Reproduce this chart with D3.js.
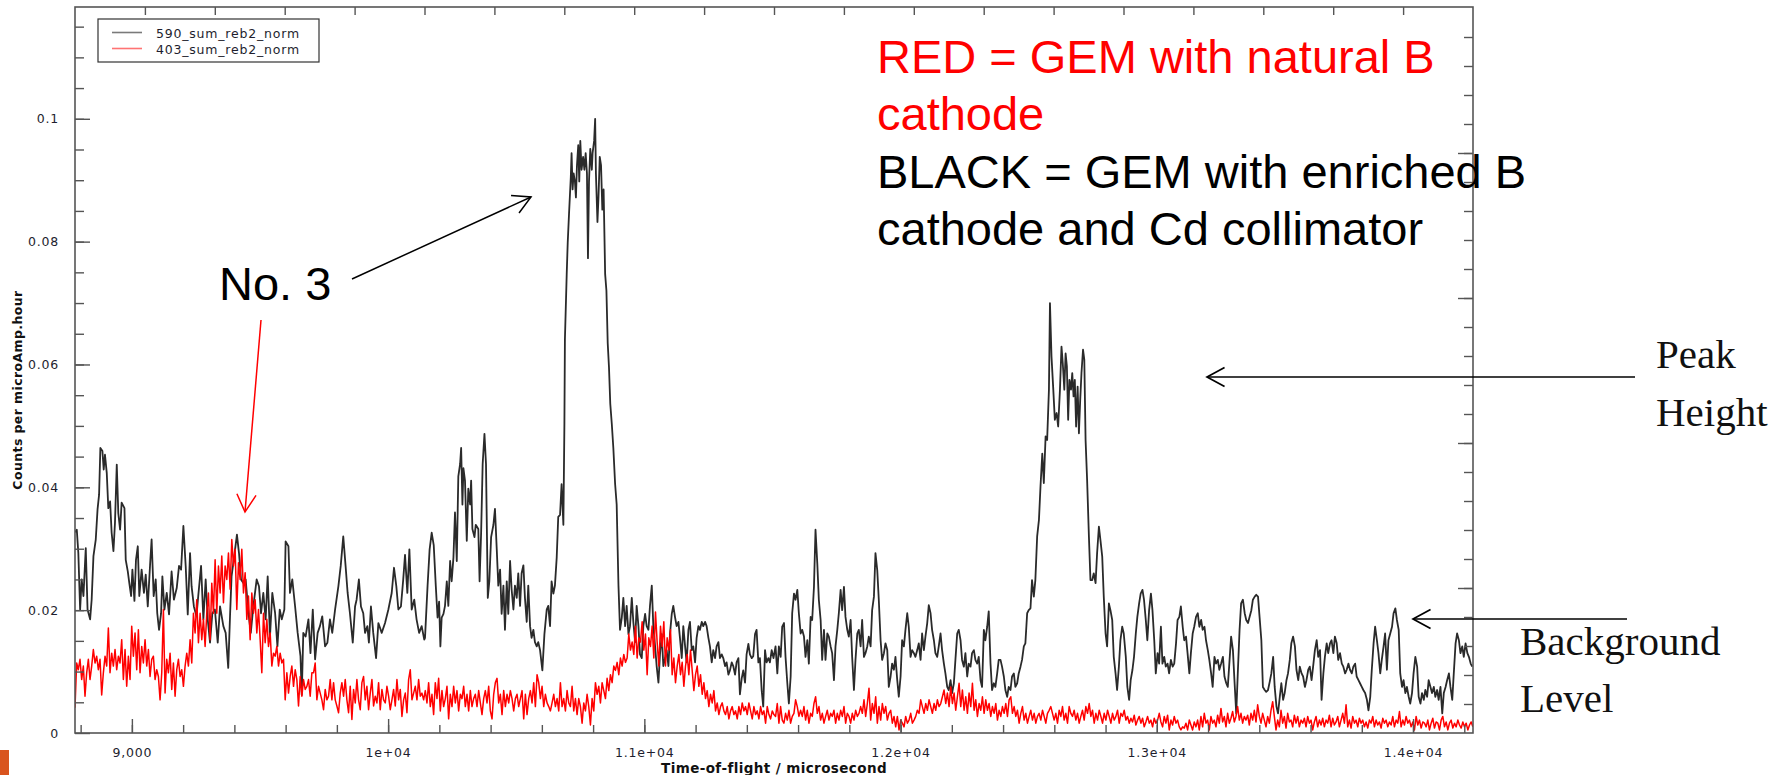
<!DOCTYPE html>
<html>
<head>
<meta charset="utf-8">
<title>GEM time-of-flight spectra</title>
<style>
  body { margin: 0; background: #fff; }
  .tick text, .legend-text { font-family: "DejaVu Sans", sans-serif; font-size: 12.5px; letter-spacing: 0.8px; fill: #1e1e2e; }
  .tick line { stroke: #555; stroke-width: 1.4px; }
  .axis-title { font-family: "DejaVu Sans", sans-serif; font-weight: bold; fill: #111; letter-spacing: 0.4px; }
  .note { font-family: "Liberation Sans", Arial, sans-serif; font-size: 47px; }
  .serif-note { font-family: "Liberation Serif", "Times New Roman", serif; font-size: 41px; fill: #111; }
</style>
</head>
<body>
<script src="https://cdnjs.cloudflare.com/ajax/libs/d3/7.8.5/d3.min.js"></script>
<script>
// black series: [time-of-flight (us), counts per microAmp.hour]
const blackSpectrum = [
[8778,.0327],[8785,.0331],[8791,.0293],[8798,.0201],[8804,.0250],[8811,.0223],[8820,.0301],[8827,.0201],[8837,.0185],[8843,.0217],[8850,.0288],[8859,.0315],[8866,.0364],[8872,.0388],[8877,.0464],[8885,.0459],[8890,.0429],[8895,.0453],[8902,.0423],[8908,.0366],[8915,.0377],[8921,.0326],[8928,.0296],[8934,.0342],[8941,.0437],[8947,.0358],[8954,.0331],[8960,.0375],[8971,.0366],[8976,.0282],[8984,.0263],[8990,.0244],[8997,.0223],[9002,.0266],[9010,.0215],[9016,.0282],[9023,.0304],[9029,.0223],[9038,.0266],[9047,.0228],[9054,.0258],[9062,.0206],[9071,.0274],[9077,.0315],[9085,.0223],[9093,.0250],[9099,.0195],[9106,.0168],[9114,.0195],[9119,.0255],[9127,.0201],[9136,.0228],[9145,.0193],[9155,.0263],[9164,.0217],[9175,.0236],[9184,.0272],[9192,.0266],[9201,.0337],[9210,.0272],[9218,.0193],[9227,.0293],[9233,.0239],[9242,.0206],[9252,.0190],[9259,.0223],[9270,.0272],[9279,.0185],[9288,.0250],[9296,.0185],[9305,.0147],[9314,.0195],[9324,.0201],[9335,.0147],[9344,.0206],[9357,.0174],[9366,.0163],[9376,.0106],[9383,.0190],[9389,.0255],[9400,.0290],[9410,.0323],[9418,.0293],[9426,.0250],[9435,.0244],[9444,.0250],[9455,.0195],[9464,.0163],[9474,.0206],[9487,.0250],[9496,.0239],[9504,.0195],[9513,.0228],[9522,.0185],[9530,.0255],[9539,.0157],[9548,.0228],[9559,.0195],[9568,.0141],[9577,.0201],[9585,.0185],[9595,.0201],[9600,.0312],[9611,.0304],[9617,.0228],[9626,.0250],[9637,.0206],[9647,.0163],[9658,.0125],[9663,.0062],[9669,.0163],[9678,.0157],[9689,.0185],[9697,.0130],[9706,.0201],[9715,.0120],[9725,.0163],[9734,.0174],[9743,.0190],[9754,.0141],[9763,.0147],[9773,.0185],[9782,.0163],[9793,.0201],[9806,.0239],[9815,.0272],[9825,.0320],[9834,.0272],[9842,.0228],[9851,.0195],[9862,.0147],[9871,.0206],[9877,.0217],[9886,.0250],[9894,.0206],[9903,.0195],[9910,.0163],[9919,.0174],[9925,.0147],[9933,.0206],[9942,.0163],[9953,.0122],[9962,.0179],[9975,.0163],[9988,.0179],[10001,.0201],[10014,.0228],[10023,.0269],[10032,.0239],[10040,.0201],[10050,.0206],[10059,.0250],[10066,.0290],[10075,.0228],[10083,.0299],[10092,.0201],[10102,.0217],[10111,.0185],[10121,.0163],[10131,.0174],[10141,.0152],
[10144,.0155],[10154,.0240],[10162,.0299],[10170,.0326],[10178,.0306],[10186,.0240],[10193,.0188],[10199,.0214],[10204,.0141],[10209,.0188],[10216,.0194],[10222,.0207],[10229,.0247],[10235,.0207],[10242,.0280],[10248,.0247],[10255,.0286],[10261,.0359],[10268,.0280],[10274,.0418],[10281,.0438],[10285,.0464],[10290,.0372],[10294,.0431],[10300,.0411],[10307,.0313],[10313,.0398],[10320,.0372],[10324,.0411],[10329,.0332],[10337,.0319],[10342,.0339],[10352,.0332],[10357,.0247],[10363,.0326],[10369,.0438],[10376,.0487],[10382,.0438],[10389,.0220],[10395,.0247],[10402,.0319],[10411,.0339],[10417,.0365],[10424,.0299],[10430,.0240],[10437,.0266],[10443,.0194],[10450,.0240],[10456,.0168],[10463,.0247],[10469,.0194],[10476,.0280],[10482,.0234],[10489,.0201],[10495,.0240],[10502,.0220],[10508,.0260],[10515,.0207],[10521,.0260],[10528,.0273],[10534,.0220],[10541,.0181],[10547,.0240],[10554,.0174],[10560,.0155],[10567,.0168],[10573,.0148],[10580,.0141],[10586,.0148],[10593,.0135],[10602,.0102],[10610,.0161],[10619,.0201],[10625,.0207],[10632,.0174],[10638,.0247],[10645,.0227],[10651,.0240],[10658,.0286],[10664,.0352],[10671,.0355],[10677,.0405],[10684,.0339],[10688,.0503],[10690,.0641],[10697,.0747],[10701,.0799],[10706,.0845],[10713,.0905],[10716,.0944],[10720,.0885],[10724,.0911],[10729,.0898],[10733,.0872],[10737,.0924],[10742,.0957],[10746,.0898],[10750,.0964],[10755,.0917],[10761,.0938],[10766,.0917],[10771,.0944],[10776,.0911],[10780,.0773],[10784,.0898],[10789,.0951],[10795,.0917],[10798,.0944],[10804,.0964],[10808,.1000],[10811,.0911],[10817,.0832],[10821,.0872],[10826,.0938],[10831,.0924],[10836,.0852],[10841,.0885],[10847,.0747],[10852,.0720],[10857,.0635],[10862,.0595],[10867,.0536],[10873,.0503],[10879,.0464],[10886,.0405],[10892,.0372],[10899,.0240],[10905,.0168],[10912,.0188],[10918,.0220],[10925,.0174],[10931,.0207],[10938,.0161],[10944,.0174],[10951,.0220],[10957,.0181],[10964,.0148],[10970,.0207],[10977,.0174],[10983,.0128],[10990,.0122],[10996,.0174],[11003,.0194],[11009,.0174],[11016,.0168],[11022,.0207],[11029,.0240],[11035,.0174],[11042,.0141],[11048,.0109],[11055,.0082],[11061,.0128],[11068,.0161],[11074,.0109],[11081,.0122],[11087,.0135],[11094,.0109],[11100,.0161],[11107,.0194],[11113,.0207],[11120,.0188],[11126,.0174],[11133,.0181],[11139,.0155],[11146,.0122],[11152,.0174],[11159,.0141],[11165,.0115],[11172,.0168],[11178,.0181],[11185,.0135],[11191,.0141],[11198,.0115],[11204,.0155],[11211,.0174],[11217,.0168],[11224,.0181],[11230,.0174],[11237,.0181],[11243,.0174],[11250,.0155],[11256,.0141],[11263,.0115],[11269,.0135],[11276,.0122],[11282,.0141],[11289,.0148],[11295,.0122],[11302,.0128],[11308,.0122],[11315,.0109],[11321,.0115],[11328,.0095],[11334,.0102],[11341,.0115],[11347,.0109],[11354,.0095],[11360,.0115],[11367,.0122],[11373,.0063],[11380,.0089],[11386,.0102],[11393,.0082],[11399,.0128],[11406,.0145],[11412,.0128],[11419,.0122],[11425,.0125],[11432,.0161],[11438,.0168],[11445,.0115],[11451,.0122],[11458,.0069],[11464,.0043],[11471,.0135],[11477,.0115],[11484,.0122],[11490,.0115],[11497,.0135],[11504,.0122],
[11512,.0141],[11519,.0097],[11525,.0141],[11532,.0124],[11538,.0173],[11545,.0179],[11551,.0124],[11558,.0081],[11564,.0048],[11571,.0092],[11577,.0195],[11584,.0227],[11590,.0217],[11597,.0233],[11603,.0195],[11610,.0162],[11616,.0168],[11623,.0157],[11629,.0124],[11636,.0151],[11642,.0113],[11649,.0189],[11655,.0184],[11662,.0238],[11668,.0331],[11675,.0276],[11681,.0217],[11688,.0184],[11694,.0119],[11701,.0168],[11707,.0119],[11714,.0162],[11720,.0157],[11727,.0141],[11733,.0130],[11740,.0086],[11746,.0141],[11753,.0168],[11759,.0195],[11766,.0233],[11772,.0200],[11779,.0238],[11785,.0189],[11792,.0168],[11798,.0157],[11805,.0184],[11811,.0124],[11818,.0070],[11824,.0119],[11831,.0162],[11837,.0168],[11844,.0141],[11850,.0184],[11857,.0124],[11863,.0130],[11870,.0141],[11876,.0157],[11883,.0141],[11889,.0200],[11896,.0222],[11902,.0293],[11909,.0265],[11915,.0217],[11922,.0151],[11928,.0119],[11935,.0130],[11941,.0146],[11948,.0135],[11954,.0075],[11961,.0092],[11967,.0113],[11974,.0103],[11980,.0124],[11987,.0086],[11993,.0059],[12000,.0092],[12006,.0151],[12013,.0141],[12019,.0168],[12026,.0195],[12032,.0173],[12039,.0124],[12045,.0135],[12052,.0130],[12058,.0124],[12065,.0135],[12071,.0146],[12078,.0119],[12084,.0162],[12091,.0135],[12097,.0157],[12104,.0179],[12110,.0208],[12117,.0195],[12123,.0168],[12130,.0151],[12136,.0130],[12143,.0124],[12149,.0141],[12156,.0162],[12162,.0135],[12169,.0113],[12175,.0097],[12182,.0075],[12188,.0070],[12195,.0086],[12201,.0065],[12208,.0081],[12214,.0119],[12221,.0162],[12227,.0168],[12234,.0151],[12240,.0119],[12247,.0108],[12253,.0130],[12260,.0092],[12266,.0113],[12273,.0108],[12279,.0130],[12286,.0135],[12292,.0119],[12299,.0113],[12305,.0124],[12312,.0086],[12318,.0075],[12325,.0168],[12331,.0151],[12338,.0173],[12344,.0198],[12351,.0113],[12357,.0070],[12364,.0081],[12370,.0075],[12377,.0097],[12383,.0119],[12390,.0119],[12396,.0108],[12403,.0092],[12409,.0070],[12416,.0059],[12422,.0075],[12429,.0070],[12435,.0092],[12442,.0097],[12448,.0075],[12455,.0081],[12461,.0097],[12468,.0108],[12474,.0119],[12481,.0141],[12487,.0146],[12494,.0195],[12500,.0200],[12507,.0203],[12513,.0249],[12520,.0222],[12526,.0249],[12533,.0320],[12540,.0347],[12546,.0401],[12553,.0455],[12559,.0407],[12566,.0483],[12572,.0477],[12579,.0559],[12583,.0700],[12589,.0613],[12596,.0559],[12602,.0510],[12609,.0521],[12615,.0499],[12622,.0559],[12628,.0629],[12633,.0602],[12639,.0559],[12644,.0618],[12649,.0597],[12654,.0510],[12659,.0575],[12665,.0559],[12670,.0586],[12675,.0548],[12680,.0575],[12685,.0499],[12691,.0564],[12696,.0488],[12701,.0542],[12706,.0586],[12712,.0624],[12717,.0608],[12722,.0477],[12728,.0412],[12735,.0320],[12741,.0249],[12748,.0249],[12754,.0260],[12761,.0244],[12767,.0293],[12774,.0336],[12780,.0314],[12787,.0287],[12793,.0222],[12800,.0162],[12806,.0141],[12813,.0211],[12819,.0200],[12826,.0184],[12832,.0124],[12839,.0097],[12845,.0070],[12852,.0108],[12858,.0151],[12865,.0173],[12871,.0162],
[12879,.0124],[12885,.0075],[12892,.0054],[12898,.0086],[12905,.0103],[12911,.0124],[12918,.0162],[12924,.0189],[12931,.0211],[12937,.0227],[12944,.0233],[12950,.0217],[12957,.0184],[12963,.0151],[12970,.0200],[12977,.0227],[12983,.0200],[12990,.0151],[12996,.0097],[13003,.0130],[13009,.0113],[13016,.0173],[13022,.0113],[13029,.0124],[13035,.0108],[13042,.0113],[13048,.0097],[13055,.0119],[13062,.0108],[13068,.0113],[13075,.0146],[13081,.0184],[13088,.0189],[13094,.0206],[13101,.0173],[13107,.0151],[13114,.0157],[13120,.0130],[13127,.0097],[13133,.0130],[13140,.0162],[13146,.0173],[13153,.0189],[13160,.0195],[13166,.0173],[13173,.0184],[13179,.0168],[13186,.0173],[13192,.0151],[13199,.0135],[13205,.0119],[13212,.0097],[13218,.0075],[13225,.0124],[13231,.0113],[13238,.0119],[13244,.0103],[13251,.0113],[13258,.0124],[13264,.0092],[13271,.0081],[13277,.0075],[13284,.0119],[13290,.0157],[13297,.0135],[13303,.0086],[13310,.0032],[13316,.0097],[13323,.0168],[13329,.0211],[13336,.0217],[13343,.0195],[13349,.0184],[13356,.0179],[13362,.0189],[13369,.0200],[13375,.0217],[13382,.0222],[13388,.0225],[13395,.0222],[13401,.0189],[13408,.0151],[13414,.0075],[13421,.0070],[13427,.0067],[13434,.0070],[13441,.0084],[13447,.0097],[13454,.0124],[13460,.0075],[13467,.0043],[13473,.0032],[13480,.0059],[13486,.0081],[13493,.0054],[13499,.0065],[13506,.0086],[13512,.0097],[13519,.0119],[13525,.0146],[13532,.0157],[13539,.0141],[13545,.0103],[13552,.0086],[13558,.0108],[13565,.0097],[13571,.0092],[13578,.0075],[13584,.0086],[13591,.0103],[13597,.0108],[13604,.0086],[13610,.0108],[13617,.0135],[13624,.0151],[13630,.0124],[13637,.0135],[13643,.0054],[13650,.0097],[13656,.0124],[13663,.0146],[13669,.0130],[13676,.0146],[13682,.0151],[13689,.0130],[13695,.0157],[13702,.0146],[13708,.0119],[13715,.0130],[13722,.0113],[13728,.0108],[13735,.0097],[13741,.0103],[13748,.0113],[13754,.0103],[13761,.0097],[13767,.0108],[13774,.0113],[13780,.0092],[13787,.0086],[13793,.0081],[13800,.0075],[13806,.0070],[13813,.0065],[13820,.0054],[13826,.0037],[13833,.0059],[13839,.0103],[13846,.0146],[13852,.0173],[13859,.0151],[13865,.0130],[13872,.0097],[13878,.0119],[13885,.0141],[13891,.0162],[13898,.0103],[13904,.0151],[13911,.0162],[13918,.0173],[13924,.0195],[13931,.0203],[13937,.0184],[13944,.0168],[13950,.0097],[13957,.0075],[13963,.0086],[13970,.0065],[13976,.0075],[13983,.0059],[13989,.0048],[13996,.0065],[14002,.0097],[14009,.0124],[14016,.0108],[14022,.0059],[14029,.0048],[14035,.0065],[14042,.0054],[14048,.0070],[14055,.0059],[14061,.0086],[14068,.0075],[14074,.0065],[14081,.0075],[14087,.0059],[14094,.0070],[14100,.0054],[14107,.0075],[14114,.0032],[14120,.0065],[14127,.0075],[14133,.0086],[14140,.0097],[14146,.0075],[14153,.0054],[14159,.0097],[14166,.0146],[14172,.0162],[14179,.0151],[14185,.0130],[14192,.0141],[14198,.0124],[14205,.0146],[14212,.0130],[14218,.0124],[14225,.0113],[14231,.0108]
];

// red series: regular bins starting at redStart, width redStep (us)
const redStart = 8778;
const redStep = 6.51;
const redCounts = [
.0041,.0114,.0103,.0120,.0087,.0109,.0060,.0098,.0120,.0087,.0109,.0136,.0114,.0125,.0103,.0120,.0062,.0098,.0125,.0109,
.0171,.0098,.0130,.0109,.0136,.0103,.0125,.0114,.0152,.0087,.0136,.0076,.0125,.0087,.0174,.0125,.0163,.0103,.0168,.0098,
.0141,.0114,.0152,.0109,.0136,.0092,.0120,.0125,.0087,.0103,.0092,.0054,.0098,.0201,.0065,.0120,.0098,.0130,.0071,.0114,
.0060,.0103,.0120,.0092,.0103,.0076,.0109,.0130,.0109,.0152,.0114,.0195,.0163,.0217,.0147,.0195,.0152,.0185,.0141,.0195,
.0228,.0152,.0244,.0195,.0282,.0195,.0272,.0228,.0288,.0212,.0272,.0250,.0293,.0234,.0315,.0272,.0299,.0201,.0277,.0250,
.0299,.0228,.0261,.0185,.0223,.0152,.0228,.0195,.0217,.0163,.0201,.0152,.0098,.0195,.0147,.0185,.0141,.0163,.0109,.0130,
.0125,.0141,.0109,.0130,.0114,.0120,.0054,.0098,.0065,.0092,.0109,.0076,.0103,.0087,.0044,.0092,.0060,.0087,.0071,.0076,
.0087,.0060,.0098,.0098,.0114,.0054,.0076,.0065,.0054,.0038,.0071,.0054,.0060,.0087,.0054,.0082,.0054,.0044,.0033,.0065,
.0082,.0060,.0087,.0054,.0033,.0076,.0022,.0071,.0049,.0087,.0054,.0038,.0082,.0092,.0054,.0076,.0038,.0065,.0087,.0044,
.0060,.0049,.0082,.0038,.0071,.0054,.0049,.0076,.0060,.0038,.0054,.0071,.0044,.0087,.0054,.0071,.0027,.0054,.0065,.0033,
.0087,.0103,.0054,.0065,.0076,.0054,.0087,.0060,.0065,.0054,
.0069,.0049,.0082,.0043,.0063,.0030,.0082,.0056,.0089,.0036,.0069,.0043,.0056,.0076,.0023,.0063,.0043,.0076,.0049,.0069,
.0036,.0063,.0056,.0076,.0043,.0063,.0036,.0069,.0043,.0056,.0063,.0043,.0069,.0049,.0030,.0056,.0069,.0049,.0076,.0036,
.0023,.0063,.0082,.0089,.0049,.0063,.0030,.0069,.0043,.0063,.0049,.0069,.0056,.0036,.0056,.0063,.0043,.0056,.0069,.0023,
.0063,.0030,.0056,.0069,.0049,.0082,.0043,.0095,.0082,.0056,.0076,.0043,.0063,.0049,.0043,.0036,.0049,.0063,.0043,.0056,
.0036,.0082,.0043,.0056,.0036,.0069,.0049,.0043,.0076,.0036,.0056,.0030,.0056,.0043,.0016,.0049,.0036,.0063,.0043,.0013,
.0056,.0036,.0082,.0063,.0076,.0049,.0082,.0069,.0056,.0089,.0069,.0095,.0082,.0109,.0102,.0115,.0095,.0122,.0109,.0128,
.0115,.0122,.0161,.0135,.0148,.0128,.0174,.0122,.0155,.0148,.0181,.0135,.0161,.0095,.0155,.0141,.0174,.0122,.0197,.0148,
.0109,.0174,.0141,.0181,.0109,.0155,.0135,.0168,.0095,.0122,.0082,.0109,.0128,.0095,.0115,.0076,.0109,.0128,.0095,.0135,
.0102,.0069,.0095,.0109,.0076,.0095,.0063,.0082,.0056,.0069,.0043,.0063,.0049,.0069,.0036,.0049,.0030,.0043,.0049,.0036,
.0030,.0043,.0023,.0036,.0043,.0030,.0036,.0023,.0043,.0030,.0049,.0036,.0043,.0030,.0049,.0036,.0023,.0043,.0030,.0036,
.0023,.0043,.0030,.0036,.0016,.0043,.0030,.0023,.0036,.0030,
.0027,.0048,.0016,.0043,.0021,.0016,.0032,.0021,.0037,.0016,.0027,.0032,.0054,.0043,.0027,.0037,.0027,.0043,.0021,.0037,
.0016,.0032,.0027,.0048,.0059,.0032,.0043,.0021,.0032,.0016,.0027,.0037,.0021,.0032,.0027,.0037,.0016,.0032,.0021,.0037,
.0027,.0043,.0016,.0032,.0027,.0016,.0032,.0021,.0037,.0027,.0032,.0043,.0032,.0054,.0027,.0048,.0073,.0021,.0048,.0032,
.0059,.0016,.0043,.0021,.0048,.0032,.0043,.0021,.0032,.0037,.0016,.0027,.0010,.0027,.0005,.0021,.0016,.0010,.0027,.0016,
.0021,.0032,.0016,.0021,.0027,.0037,.0032,.0054,.0043,.0032,.0048,.0037,.0054,.0043,.0032,.0048,.0037,.0054,.0043,.0048,
.0059,.0070,.0048,.0065,.0043,.0075,.0048,.0065,.0037,.0059,.0081,.0043,.0070,.0037,.0059,.0032,.0065,.0043,.0081,.0037,
.0054,.0027,.0048,.0037,.0059,.0032,.0054,.0037,.0048,.0027,.0043,.0032,.0048,.0021,.0037,.0027,.0043,.0032,.0048,.0027,
.0054,.0059,.0032,.0043,.0027,.0037,.0016,.0032,.0043,.0021,.0032,.0016,.0027,.0037,.0021,.0032,.0016,.0027,.0032,.0021,
.0037,.0027,.0016,.0032,.0037,.0043,.0032,.0021,.0032,.0016,.0037,.0027,.0043,.0021,.0032,.0016,.0043,.0032,.0027,.0037,
.0021,.0032,.0016,.0027,.0037,.0021,.0043,.0032,.0048,.0027,.0037,.0016,.0032,.0021,.0037,.0027,.0016,.0032,.0021,.0037,
.0027,.0016,.0032,.0021,.0027,.0037,.0016,.0032,.0027,.0037,
.0021,.0027,.0016,.0024,.0018,.0029,.0013,.0021,.0027,.0016,.0024,.0010,.0018,.0027,.0016,.0021,.0010,.0024,.0016,.0021,
.0032,.0018,.0010,.0027,.0016,.0029,.0005,.0021,.0013,.0027,.0016,.0021,.0010,.0005,.0010,.0008,.0016,.0005,.0021,.0013,
.0005,.0018,.0010,.0021,.0005,.0027,.0010,.0032,.0016,.0021,.0005,.0027,.0016,.0021,.0010,.0029,.0016,.0040,.0018,.0027,
.0010,.0032,.0016,.0024,.0035,.0018,.0027,.0043,.0021,.0032,.0016,.0027,.0021,.0029,.0013,.0032,.0021,.0037,.0018,.0046,
.0027,.0016,.0032,.0021,.0010,.0027,.0016,.0037,.0051,.0027,.0005,.0021,.0010,.0037,.0016,.0027,.0008,.0032,.0018,.0021,
.0010,.0029,.0016,.0027,.0010,.0021,.0016,.0024,.0010,.0027,.0016,.0021,.0005,.0018,.0027,.0010,.0021,.0013,.0024,.0010,
.0021,.0016,.0029,.0010,.0024,.0013,.0018,.0027,.0010,.0021,.0032,.0016,.0046,.0010,.0021,.0008,.0027,.0016,.0021,.0010,
.0024,.0016,.0021,.0010,.0018,.0008,.0021,.0016,.0027,.0010,.0021,.0013,.0018,.0008,.0024,.0016,.0021,.0010,.0018,.0013,
.0027,.0010,.0021,.0016,.0035,.0010,.0021,.0013,.0027,.0016,.0021,.0010,.0018,.0005,.0027,.0013,.0021,.0008,.0018,.0016,
.0010,.0021,.0005,.0016,.0024,.0008,.0018,.0016,.0005,.0021,.0027,.0010,.0018,.0005,.0016,.0021,.0008,.0016,.0010,.0021,
.0013,.0008,.0018,.0010,.0016,.0005,.0013,.0018,.0010
];

const seriesNames = ["590_sum_reb2_norm", "403_sum_reb2_norm"];
const seriesColors = ["#2a2a2a", "#ff0000"];
const legendColors = ["#7a7a7a", "#ff7373"];
const xTickValues = [9000, 10000, 11000, 12000, 13000, 14000];
const xTickLabels = ["9,000", "1e+04", "1.1e+04", "1.2e+04", "1.3e+04", "1.4e+04"];
const yTickValues = [0, 0.02, 0.04, 0.06, 0.08, 0.1];
const yTickLabels = ["0", "0.02", "0.04", "0.06", "0.08", "0.1"];
const xDomain = [8778, 14234];
const yDomain = [0, 0.1182];

const W = 1792, H = 775;
const plot = {left: 75, right: 1473, top: 7, bottom: 733};

const svg = d3.select("body").append("svg")
    .attr("width", W)
    .attr("height", H);

svg.append("rect").attr("width", W).attr("height", H).attr("fill", "#fff");

const x = d3.scaleLinear().domain(xDomain).range([plot.left, plot.right]);
const y = d3.scaleLinear().domain(yDomain).range([plot.bottom, plot.top]);
// the mirrored axes carry their own unlabelled tick grids
const xTop = d3.scaleLinear().domain([0, 1]).range([plot.left, plot.right]);
const yRight = d3.scaleLinear().domain([0, 1]).range([plot.bottom, plot.top + 1]);

svg.append("clipPath").attr("id", "plot-clip")
  .append("rect")
    .attr("x", plot.left).attr("y", plot.top)
    .attr("width", plot.right - plot.left).attr("height", plot.bottom - plot.top);

// Data lines
const lineBlack = d3.line().x(d => x(d[0])).y(d => y(d[1]));
const lineRed = d3.line().x((d, i) => x(redStart + i * redStep)).y(d => y(d));

const dataG = svg.append("g").attr("clip-path", "url(#plot-clip)");
dataG.append("path")
    .attr("d", lineBlack(blackSpectrum))
    .attr("fill", "none")
    .attr("stroke", seriesColors[0])
    .attr("stroke-width", 1.8)
    .attr("stroke-linejoin", "round");
dataG.append("path")
    .attr("d", lineRed(redCounts))
    .attr("fill", "none")
    .attr("stroke", seriesColors[1])
    .attr("stroke-width", 1.5)
    .attr("stroke-linejoin", "round");

// Axes (ticks point inward)
function styleAxis(g) {
    g.select(".domain").remove();
    g.attr("font-family", null).attr("font-size", null);
}

svg.append("g")
    .attr("transform", `translate(0,${plot.bottom})`)
    .call(d3.axisBottom(x).tickValues(d3.range(8800, xDomain[1], 200)).tickSizeInner(-8).tickSizeOuter(0).tickFormat(""))
    .call(styleAxis);
svg.append("g")
    .attr("transform", `translate(0,${plot.bottom})`)
    .call(d3.axisBottom(x).tickValues(xTickValues).tickSizeInner(-14).tickSizeOuter(0).tickPadding(15)
        .tickFormat((d, i) => xTickLabels[i]))
    .call(styleAxis);

svg.append("g")
    .attr("transform", `translate(${plot.left},0)`)
    .call(d3.axisLeft(y).tickValues(d3.range(0.005, yDomain[1], 0.005)).tickSizeInner(-9).tickSizeOuter(0).tickFormat(""))
    .call(styleAxis);
svg.append("g")
    .attr("transform", `translate(${plot.left},0)`)
    .call(d3.axisLeft(y).tickValues(yTickValues).tickSizeInner(-15).tickSizeOuter(0).tickPadding(16)
        .tickFormat((d, i) => yTickLabels[i]))
    .call(styleAxis);

svg.append("g")
    .attr("transform", `translate(0,${plot.top})`)
    .call(d3.axisTop(xTop).tickValues(d3.range(0.05, 1, 0.05)).tickSizeInner(-8).tickSizeOuter(0).tickFormat(""))
    .call(styleAxis);

svg.append("g")
    .attr("transform", `translate(${plot.right},0)`)
    .call(d3.axisRight(yRight).tickValues(d3.range(0.04, 1, 0.04)).tickSizeInner(-9).tickSizeOuter(0).tickFormat(""))
    .call(styleAxis);
svg.append("g")
    .attr("transform", `translate(${plot.right},0)`)
    .call(d3.axisRight(yRight).tickValues([0.2, 0.4, 0.6, 0.8]).tickSizeInner(-15).tickSizeOuter(0).tickFormat(""))
    .call(styleAxis);

// Frame
svg.append("rect")
    .attr("x", plot.left).attr("y", plot.top)
    .attr("width", plot.right - plot.left).attr("height", plot.bottom - plot.top)
    .attr("fill", "none")
    .attr("stroke", "#555")
    .attr("stroke-width", 1.6);

// Axis titles
svg.append("text")
    .attr("class", "axis-title")
    .attr("x", (plot.left + plot.right) / 2)
    .attr("y", 773)
    .attr("text-anchor", "middle")
    .attr("font-size", 13.5)
    .text("Time-of-flight / microsecond");

svg.append("text")
    .attr("class", "axis-title")
    .attr("transform", `translate(22,390) rotate(-90)`)
    .attr("text-anchor", "middle")
    .attr("font-size", 12.5)
    .text("Counts per microAmp.hour");

// Legend
const legend = svg.append("g").attr("transform", "translate(98,19)");
legend.append("rect")
    .attr("width", 221).attr("height", 43)
    .attr("fill", "#fff")
    .attr("stroke", "#333")
    .attr("stroke-width", 1.2);
seriesNames.forEach((name, i) => {
    const row = legend.append("g").attr("transform", `translate(0,${13.5 + i * 16})`);
    row.append("line")
        .attr("x1", 14).attr("x2", 44)
        .attr("stroke", legendColors[i])
        .attr("stroke-width", 1.6);
    row.append("text")
        .attr("class", "legend-text")
        .attr("x", 58).attr("y", 5)
        .text(name);
});

// Annotations
function arrow(x1, y1, x2, y2, color, width) {
    const a = Math.atan2(y2 - y1, x2 - x1);
    const len = 20, spread = 0.5;
    const g = svg.append("g")
        .attr("stroke", color)
        .attr("stroke-width", width)
        .attr("fill", "none");
    g.append("line").attr("x1", x1).attr("y1", y1).attr("x2", x2).attr("y2", y2);
    g.append("path").attr("d",
        `M${x2 - len * Math.cos(a - spread)},${y2 - len * Math.sin(a - spread)}` +
        `L${x2},${y2}` +
        `L${x2 - len * Math.cos(a + spread)},${y2 - len * Math.sin(a + spread)}`);
}

const noteLines = [
    {text: "RED = GEM with natural B", color: "#ff0000"},
    {text: "cathode", color: "#ff0000"},
    {text: "BLACK = GEM with enriched B", color: "#000"},
    {text: "cathode and Cd collimator", color: "#000"}
];
noteLines.forEach((d, i) => {
    svg.append("text")
        .attr("class", "note")
        .attr("x", 877)
        .attr("y", 73 + i * 57.3)
        .attr("fill", d.color)
        .text(d.text);
});

svg.append("text")
    .attr("class", "note")
    .attr("x", 219).attr("y", 300)
    .attr("fill", "#000")
    .text("No. 3");

arrow(352, 279, 531, 197, "#000", 1.5);
arrow(261, 320, 245, 512, "#ff0000", 1.5);
arrow(1635, 377, 1207, 377, "#000", 1.7);
arrow(1627, 619, 1413, 619, "#000", 1.7);

svg.append("text").attr("class", "serif-note").attr("x", 1656).attr("y", 368).text("Peak");
svg.append("text").attr("class", "serif-note").attr("x", 1656).attr("y", 426).text("Height");
svg.append("text").attr("class", "serif-note").attr("x", 1520).attr("y", 655).text("Background");
svg.append("text").attr("class", "serif-note").attr("x", 1520).attr("y", 712).text("Level");

// slide decoration at lower left
svg.append("rect")
    .attr("x", 0).attr("y", 750)
    .attr("width", 9).attr("height", 25)
    .attr("fill", "#d9541e");
</script>
</body>
</html>
